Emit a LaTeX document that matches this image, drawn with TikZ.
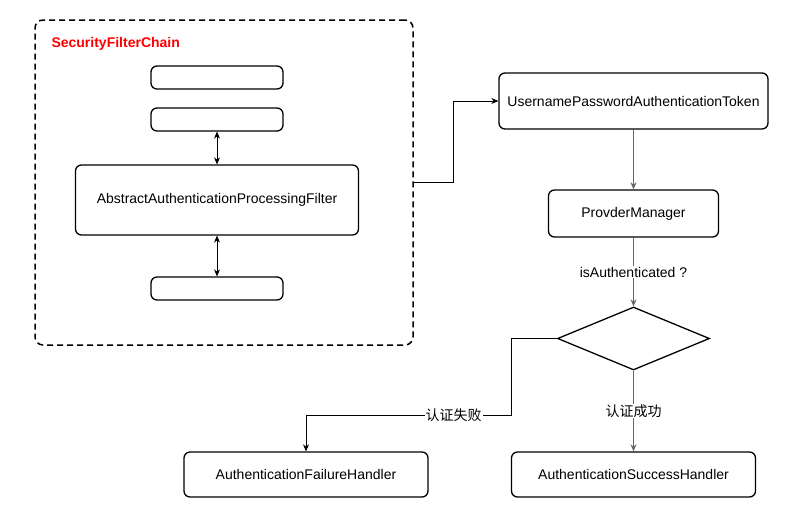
\documentclass[tikz,border=0pt]{standalone}
\usepackage{fontspec}
\setmainfont{Liberation Sans}
\newfontfamily\cjk{Noto Sans CJK SC}
\definecolor{chainred}{RGB}{255,0,0}
\definecolor{linegray}{RGB}{102,102,102}
\usetikzlibrary{arrows.meta, positioning, shapes.geometric, calc}

\begin{document}
\begin{tikzpicture}[
  x=1pt, y=-1pt,
  font=\fontsize{14}{16}\selectfont,
  box/.style={rectangle, rounded corners=6pt, draw, line width=1.3pt, inner sep=0pt, align=center},
  chainbox/.style={rectangle, rounded corners=8pt, draw, dashed, dash pattern=on 6pt off 4pt, line width=1.5pt},
  decision/.style={diamond, draw, line width=1.3pt, inner sep=0pt, minimum width=152pt, minimum height=63pt},
  arr/.style={-{Stealth[length=7pt,width=6pt]}, line width=0.8pt},
  grayarr/.style={arr, linegray, line width=1.4pt},
  dbl/.style={{Stealth[length=7pt,width=6pt]}-{Stealth[length=7pt,width=6pt]}, line width=0.8pt},
  lbl/.style={fill=white, inner sep=1pt, text=black}
]
  \useasboundingbox (0,0) rectangle (802,522);

  % filter chain
  \node[chainbox, minimum width=378pt, minimum height=325pt] (chain) at (224,182.5) {};
  \node[anchor=west, text=chainred, font=\fontsize{14}{16}\selectfont\bfseries] (chaintitle) at (48,44) {SecurityFilterChain};
  \node[box, minimum width=132pt, minimum height=23pt] (f1) at (217,77.5) {};
  \node[box, minimum width=132pt, minimum height=23pt] (f2) at (217,119.5) {};
  \node[box, minimum width=283pt, minimum height=70pt] (proc) at (217,200) {AbstractAuthenticationProcessingFilter};
  \node[box, minimum width=132pt, minimum height=23pt] (f3) at (217,288.5) {};
  \draw[dbl] (f2) -- (proc);
  \draw[dbl] (proc) -- (f3);

  % authentication
  \node[box, minimum width=269pt, minimum height=56pt] (token) at (633.5,101) {UsernamePasswordAuthenticationToken};
  \node[box, minimum width=170pt, minimum height=47pt] (mgr) at (633.5,213.5) {ProvderManager};
  \node[decision] (check) at (633.5,338.5) {};
  \node[box, minimum width=244pt, minimum height=45pt] (fail) at (306,474.5) {AuthenticationFailureHandler};
  \node[box, minimum width=244pt, minimum height=45pt] (ok) at (633.5,474.5) {AuthenticationSuccessHandler};
  \coordinate (failbend) at (511,415);

  \draw[arr] (chain.east) -- ++(40,0) |- (token.west);
  \draw[grayarr] (token) -- (mgr);
  \draw[grayarr] (mgr) -- node[lbl] {isAuthenticated ?} (check);
  \draw[grayarr] (check) -- node[lbl, font=\cjk\fontsize{14}{16}\selectfont] {认证成功} (ok);
  \draw[arr] (check.west) -| (failbend) -| node[lbl, pos=0.14, font=\cjk\fontsize{14}{16}\selectfont] {认证失败} (fail);
\end{tikzpicture}
\end{document}
